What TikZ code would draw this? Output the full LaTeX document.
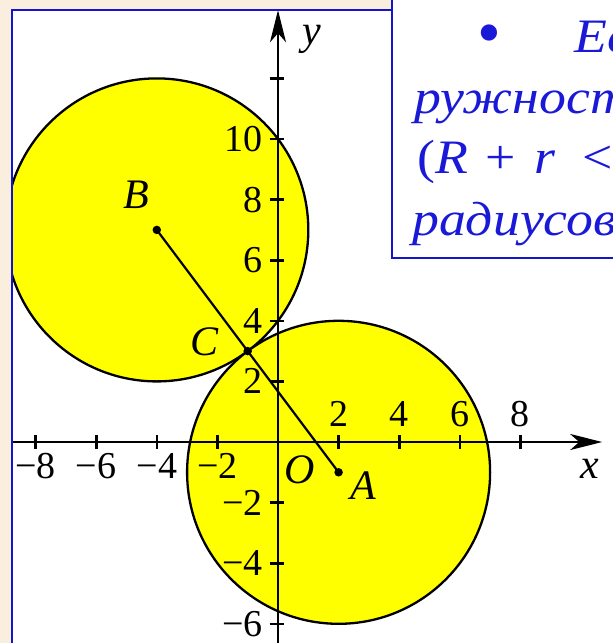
\documentclass[tikz,border=0pt]{standalone}
\usepackage{fontspec}
\setmainfont{Liberation Serif}
\usetikzlibrary{arrows.meta}
\definecolor{bgbeige}{RGB}{250,238,222}
\definecolor{frameblue}{RGB}{20,20,200}
\definecolor{txtblue}{RGB}{25,25,215}
\definecolor{circyellow}{RGB}{255,255,0}
\tikzset{
  circfill/.style={fill=circyellow, draw=black, line width=2.3pt},
  axisline/.style={black, line width=2.3pt, -{Stealth[length=32pt,width=16pt,inset=9pt]}},
  tickmark/.style={black, line width=2.6pt},
  numlbl/.style={font=\fontsize{38}{42}\selectfont, inner sep=0pt, text=black},
  letlbl/.style={font=\fontsize{42}{46}\selectfont\itshape, inner sep=0pt, text=black},
  ptdot/.style={circle, fill=black, inner sep=0pt, minimum size=8.5pt},
  seg/.style={black, line width=2.2pt},
  boxtext/.style={font=\fontsize{48}{52}\selectfont\itshape, text=txtblue, inner sep=0pt, anchor=base west}
}
\begin{document}
\begin{tikzpicture}[x=1pt,y=-1pt]
\useasboundingbox (0,0) rectangle (613,643);
\clip (0,0) rectangle (613,643);
\fill[bgbeige] (0,0) rectangle (613,643);
\draw[frameblue, line width=2pt, fill=white] (12,10) rectangle (660,700);
\begin{scope}
\clip (13,11) rectangle (613,643);
\begin{scope}[shift={(278,442)}, x=30.3pt, y=30.3pt]
  \filldraw[circfill] (-4,7) circle (5);
  \filldraw[circfill] (2,-1) circle (5);
  % axes
  \coordinate (xstart) at (-9.5,0);
  \coordinate (xend) at (10.7,0);
  \coordinate (ystart) at (0,-7.5);
  \coordinate (yend) at (0,14.25);
  \draw[axisline] (xstart) -- (xend);
  \draw[axisline] (ystart) -- (yend);
  \foreach \t in {-8,-6,-4,-2,2,4,6,8} \draw[tickmark] (\t,-0.22) -- (\t,0.22);
  \foreach \t in {-6,-4,-2,2,4,6,8,10,12} \draw[tickmark] (-0.28,\t) -- (0.2,\t);
  \foreach \t in {2,4,6,8} \node[numlbl, anchor=south] (xp\t) at (\t,0.5) {\t};
  \foreach \t in {8,6,4,2} \node[numlbl, anchor=north] (xn\t) at (-\t,-0.36) {−\t};
  \foreach \t in {2,4,6,8,10} \node[numlbl, anchor=east] (yp\t) at (-0.5,\t) {\t};
  \foreach \t in {2,4,6} \node[numlbl, anchor=east] (yn\t) at (-0.5,-\t) {−\t};
  % points
  \node[ptdot] (B) at (-4,7) {};
  \node[ptdot] (A) at (2,-1) {};
  \node[ptdot] (C) at (-1,3) {};
  \draw[seg] (B.center) -- (A.center);
  \node[letlbl] (lB) at (-4.69,8.15) {B};
  \node[letlbl] (lC) at (-2.41,3.3) {C};
  \node[letlbl] (lO) at (0.73,-0.92) {O};
  \node[letlbl] (lA) at (2.8,-1.45) {A};
  \node[letlbl] (lx) at (10.3,-0.89) {x};
  \node[letlbl] (ly) at (1.1,13.3) {y};
\end{scope}
\end{scope}
% text box
\draw[frameblue, line width=2.5pt, fill=white] (392,-10) rectangle (660,258);
\node[font=\fontsize{68}{70}\selectfont, text=txtblue, inner sep=0pt, anchor=base] (bul) at (489,55) {•};
\node[boxtext] (t1) at (574,52) {\scalebox{1.12}[1]{Ес}};
\node[boxtext] (t2) at (414,113) {\scalebox{1.12}[1]{ружност}};
\node[boxtext, font=\fontsize{48}{52}\selectfont] (t3) at (417,173) {\scalebox{1.12}[1]{(\textit{R}\,\,+\,\,\textit{r}\,\,\,<}};
\node[boxtext] (t4) at (412,235) {\scalebox{1.12}[1]{радиусов}};
\end{tikzpicture}
\end{document}
